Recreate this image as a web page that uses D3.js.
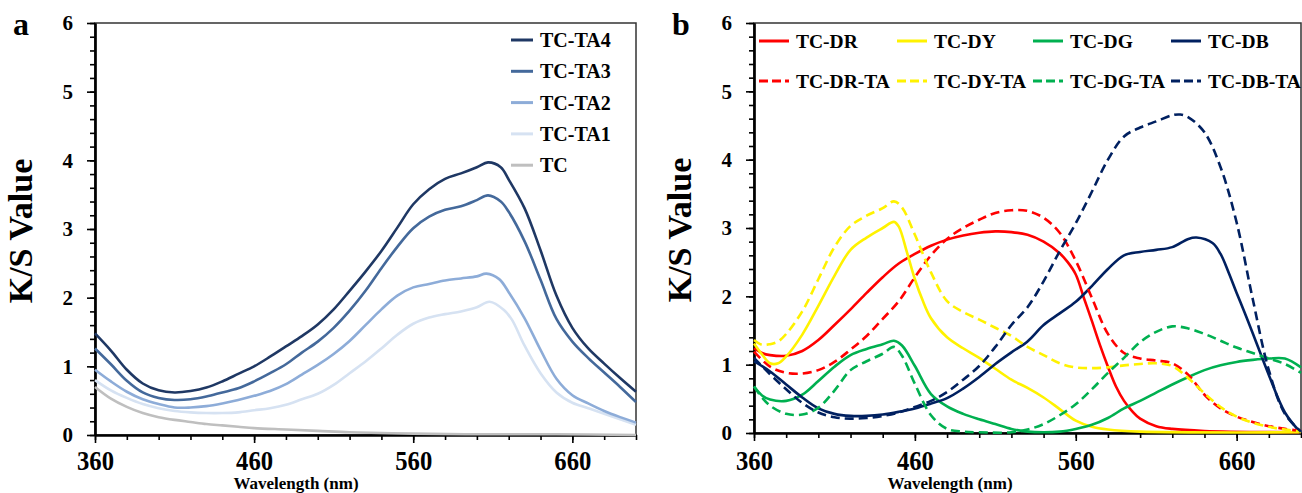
<!DOCTYPE html>
<html>
<head>
<meta charset="utf-8">
<script src="https://cdn.jsdelivr.net/npm/d3@7/dist/d3.min.js"></script>
<style>
body { margin: 0; background: #fff; }
svg text { font-family: "Liberation Serif", "Times New Roman", Times, serif !important; font-weight: bold; fill: #000; }
</style>
</head>
<body>
<svg id="chart" width="1302" height="493" font-family="Liberation Serif, serif"></svg>
<script>
// ---- data: [wavelength nm, K/S] ----
var tc = [[360,0.70],[370,0.53],[380,0.41],[390,0.32],[400,0.26],[410,0.22],[420,0.19],[430,0.16],[440,0.14],[450,0.12],[460,0.10],[480,0.08],[500,0.06],[520,0.04],[540,0.03],[560,0.02],[600,0.01],[650,0.01],[700,0.0]]
var tcTa1 = [[360,0.80],[370,0.65],[380,0.54],[390,0.45],[400,0.39],[410,0.35],[420,0.33],[430,0.32],[440,0.32],[450,0.33],[460,0.36],[470,0.39],[480,0.44],[490,0.52],[500,0.60],[510,0.73],[520,0.90],[530,1.07],[540,1.26],[550,1.46],[560,1.62],[570,1.71],[580,1.76],[590,1.80],[600,1.86],[608,1.94],[617,1.82],[622,1.68],[630,1.30],[640,0.90],[650,0.62],[660,0.47],[670,0.39],[680,0.31],[690,0.23],[700,0.15]]
var tcTa2 = [[360,0.95],[370,0.78],[380,0.63],[390,0.52],[400,0.45],[410,0.40],[420,0.40],[430,0.42],[440,0.46],[450,0.51],[460,0.57],[470,0.64],[480,0.74],[490,0.88],[500,1.02],[510,1.18],[520,1.37],[530,1.60],[540,1.83],[550,2.03],[560,2.15],[570,2.20],[580,2.25],[590,2.28],[600,2.31],[606,2.35],[614,2.27],[620,2.08],[630,1.70],[640,1.24],[650,0.82],[660,0.58],[670,0.46],[680,0.35],[690,0.26],[700,0.18]]
var tcTa3 = [[360,1.26],[370,1.03],[380,0.79],[390,0.62],[400,0.54],[410,0.51],[420,0.52],[430,0.56],[440,0.62],[450,0.68],[460,0.78],[470,0.90],[480,1.03],[490,1.20],[500,1.36],[510,1.56],[520,1.81],[530,2.10],[540,2.43],[550,2.74],[560,3.01],[570,3.18],[580,3.28],[590,3.33],[600,3.42],[607,3.49],[615,3.40],[620,3.25],[630,2.82],[640,2.26],[650,1.69],[660,1.36],[670,1.12],[680,0.91],[690,0.70],[700,0.48]]
var tcTa4 = [[360,1.48],[370,1.23],[380,0.95],[390,0.75],[400,0.65],[410,0.62],[420,0.64],[430,0.69],[440,0.78],[450,0.89],[460,1.00],[470,1.14],[480,1.29],[490,1.44],[500,1.61],[510,1.83],[520,2.10],[530,2.38],[540,2.68],[550,3.02],[560,3.36],[570,3.58],[580,3.73],[590,3.81],[600,3.90],[607,3.97],[615,3.90],[620,3.72],[630,3.30],[640,2.69],[650,2.03],[660,1.56],[670,1.26],[680,1.04],[690,0.83],[700,0.63]]

var tcDr = [[360,1.24],[365,1.17],[370,1.14],[380,1.13],[390,1.20],[400,1.36],[410,1.58],[420,1.81],[430,2.05],[440,2.28],[450,2.48],[460,2.62],[470,2.74],[480,2.83],[490,2.89],[500,2.93],[510,2.95],[520,2.94],[530,2.90],[540,2.80],[550,2.63],[555,2.50],[560,2.32],[565,1.98],[570,1.64],[575,1.29],[580,0.97],[585,0.68],[590,0.47],[595,0.32],[600,0.21],[610,0.10],[620,0.06],[640,0.03],[700,0.01]]
var tcDrTa = [[360,1.19],[370,0.97],[380,0.88],[390,0.87],[400,0.92],[410,1.04],[420,1.22],[430,1.42],[440,1.67],[450,1.93],[460,2.28],[470,2.60],[480,2.84],[490,3.00],[500,3.12],[510,3.22],[520,3.26],[530,3.25],[540,3.15],[550,2.93],[560,2.52],[570,1.98],[580,1.45],[590,1.17],[600,1.09],[610,1.06],[620,1.02],[630,0.85],[640,0.56],[650,0.36],[660,0.24],[670,0.16],[680,0.10],[690,0.06],[700,0.03]]
var tcDy = [[360,1.31],[365,1.15],[370,1.02],[375,1.02],[380,1.12],[390,1.44],[400,1.86],[410,2.30],[420,2.68],[430,2.86],[440,3.00],[447,3.09],[450,3.02],[455,2.65],[460,2.25],[465,1.93],[470,1.68],[480,1.40],[490,1.24],[500,1.10],[510,0.94],[520,0.78],[530,0.66],[540,0.52],[550,0.35],[560,0.18],[570,0.09],[580,0.05],[600,0.02],[700,0.01]]
var tcDyTa = [[360,1.36],[365,1.29],[370,1.30],[375,1.34],[380,1.45],[390,1.78],[400,2.25],[410,2.72],[420,3.03],[430,3.18],[440,3.29],[447,3.39],[452,3.30],[460,2.90],[470,2.35],[480,1.93],[490,1.77],[500,1.66],[510,1.54],[520,1.42],[530,1.26],[540,1.14],[550,1.02],[560,0.96],[570,0.95],[580,0.96],[590,0.99],[600,1.01],[610,1.02],[620,0.98],[630,0.80],[640,0.58],[650,0.38],[660,0.24],[670,0.15],[680,0.09],[690,0.05],[700,0.02]]
var tcDg = [[360,0.68],[365,0.55],[370,0.49],[380,0.47],[390,0.56],[400,0.76],[410,0.97],[420,1.14],[430,1.23],[440,1.30],[447,1.35],[452,1.28],[460,0.98],[470,0.57],[480,0.39],[490,0.28],[500,0.20],[510,0.13],[520,0.06],[530,0.02],[540,0.01],[550,0.02],[560,0.06],[570,0.12],[580,0.22],[590,0.36],[600,0.47],[610,0.59],[620,0.71],[630,0.82],[640,0.92],[650,0.99],[660,1.04],[670,1.07],[680,1.09],[690,1.09],[700,0.96]]
var tcDgTa = [[360,0.68],[365,0.52],[370,0.40],[380,0.28],[390,0.27],[400,0.37],[410,0.62],[420,0.92],[430,1.05],[440,1.16],[447,1.26],[452,1.13],[460,0.72],[470,0.26],[480,0.06],[490,0.02],[500,0.01],[520,0.01],[530,0.05],[540,0.13],[550,0.26],[560,0.42],[570,0.64],[580,0.88],[590,1.10],[600,1.33],[610,1.48],[620,1.56],[630,1.53],[640,1.45],[650,1.35],[660,1.25],[670,1.17],[680,1.09],[690,1.01],[700,0.88]]
var tcDb = [[360,1.05],[370,0.90],[380,0.71],[390,0.52],[400,0.36],[410,0.28],[420,0.25],[430,0.25],[440,0.27],[450,0.31],[460,0.36],[470,0.43],[480,0.51],[490,0.65],[500,0.82],[510,1.01],[520,1.18],[530,1.34],[540,1.58],[550,1.75],[560,1.92],[570,2.15],[580,2.40],[590,2.60],[600,2.65],[610,2.68],[620,2.72],[630,2.84],[635,2.86],[645,2.78],[650,2.62],[655,2.35],[660,2.05],[665,1.76],[670,1.46],[680,0.85],[690,0.30],[700,0.0]]
var tcDbTa = [[360,1.10],[370,0.86],[380,0.64],[390,0.44],[400,0.30],[410,0.23],[420,0.21],[430,0.22],[440,0.25],[450,0.30],[460,0.38],[470,0.47],[480,0.60],[490,0.78],[500,0.98],[510,1.26],[520,1.58],[530,1.84],[540,2.22],[550,2.66],[560,3.07],[570,3.53],[580,4.00],[590,4.34],[600,4.47],[610,4.56],[620,4.65],[625,4.66],[630,4.62],[640,4.40],[650,3.89],[660,3.08],[670,1.96],[680,0.92],[690,0.28],[700,0.02]]

var namesA = ["TC-TA4", "TC-TA3", "TC-TA2", "TC-TA1", "TC"]
var seriesA = [tcTa4, tcTa3, tcTa2, tcTa1, tc]
var namesB = ["TC-DR", "TC-DY", "TC-DG", "TC-DB", "TC-DR-TA", "TC-DY-TA", "TC-DG-TA", "TC-DB-TA"]
var seriesB = [tcDr, tcDy, tcDg, tcDb, tcDrTa, tcDyTa, tcDgTa, tcDbTa]

var yMajor = [0, 1, 2, 3, 4, 5, 6]
var yMinor = d3.range(0, 6.001, 0.2)
var xMajor = [360, 460, 560, 660]
var xMinor = d3.range(360, 701, 20)

var colorsA = ["#1f3864", "#44699b", "#8dacd8", "#d6e2f2", "#bfbfbf"]
var colorsB = ["#ff0000", "#fff200", "#00b050", "#002060"]
var serif = "'Liberation Serif', 'Times New Roman', Times, serif"

var svg = d3.select("#chart")

// axes, frame and labels shared by both panels
function drawFrame(p) {
    var x = d3.scaleLinear().domain([360, 700]).range([p.left, p.right])
    var y = d3.scaleLinear().domain([0, 6]).range([p.bottom, p.top])
    var g = svg.append("g")

    g.append("rect")
        .attr("x", p.left).attr("y", p.top)
        .attr("width", p.right - p.left).attr("height", p.bottom - p.top)
        .attr("fill", "none").attr("stroke", "#333").attr("stroke-width", 1.5)

    g.append("g").attr("transform", "translate(" + p.left + ",0)")
        .call(d3.axisLeft(y).tickValues(yMinor).tickSize(5).tickSizeOuter(0).tickFormat(""))
    var ya = g.append("g").attr("transform", "translate(" + p.left + ",0)")
        .call(d3.axisLeft(y).tickValues(yMajor).tickSize(8).tickSizeOuter(0).tickPadding(14).tickFormat(d3.format("d")))
    ya.selectAll("text").style("font-size", "21px")

    g.append("g").attr("transform", "translate(0," + p.bottom + ")")
        .call(d3.axisBottom(x).tickValues(xMinor).tickSize(5).tickSizeOuter(0).tickFormat(""))
    var xa = g.append("g").attr("transform", "translate(0," + p.bottom + ")")
        .call(d3.axisBottom(x).tickValues(xMajor).tickSize(8).tickSizeOuter(0).tickPadding(8))
    xa.selectAll("text").attr("dy", null).attr("y", 470 - p.bottom)
        .style("font-size", "28px").attr("textLength", 37).attr("lengthAdjust", "spacingAndGlyphs")

    g.selectAll(".domain").attr("stroke", "#000").attr("stroke-width", 2.2)
    g.selectAll(".tick line").attr("stroke", "#000").attr("stroke-width", 1.6)

    g.append("text")
        .attr("transform", "translate(" + (p.left - 63) + "," + ((p.top + p.bottom) / 2 + 2) + ") rotate(-90)")
        .attr("text-anchor", "middle")
        .style("font-size", "34px")
        .text("K/S Value")

    g.append("text")
        .attr("x", p.xlab).attr("y", 489)
        .attr("text-anchor", "middle")
        .style("font-size", "17px")
        .text("Wavelength (nm)")

    g.append("text")
        .attr("x", p.left - 82).attr("y", 35)
        .style("font-size", "32px")
        .text(p.letter)

    g.selectAll("text").attr("font-family", serif).style("font-family", serif).style("font-weight", "bold")
    return {x: x, y: y, g: g}
}

var pa = drawFrame({left: 95, right: 636, top: 23, bottom: 435, xlab: 296, letter: "a"})
var pb = drawFrame({left: 754, right: 1301, top: 23, bottom: 433, xlab: 950, letter: "b"})

function lineOf(p) {
    return d3.line()
        .x(function(d) { return p.x(d[0]) })
        .y(function(d) { return p.y(d[1]) })
        .curve(d3.curveCatmullRom.alpha(0.5))
}

// panel a curves, lightest first
var lineA = lineOf(pa)
for (var i = seriesA.length - 1; i >= 0; i--) {
    pa.g.append("path")
        .datum(seriesA[i])
        .attr("fill", "none")
        .attr("stroke", colorsA[i])
        .attr("stroke-width", 2.6)
        .attr("d", lineA)
}

// panel a legend
namesA.forEach(function(n, i) {
    var ly = 40 + i * 31.3
    pa.g.append("line").attr("x1", 511).attr("x2", 533).attr("y1", ly).attr("y2", ly)
        .attr("stroke", colorsA[i]).attr("stroke-width", 3)
    pa.g.append("text").attr("x", 540).attr("y", ly + 7)
        .style("font-family", serif).style("font-size", "20px").text(n)
})

// panel b curves
var lineB = lineOf(pb)
seriesB.forEach(function(s, i) {
    pb.g.append("path")
        .datum(s)
        .attr("fill", "none")
        .attr("stroke", colorsB[i % 4])
        .attr("stroke-width", 2.6)
        .attr("stroke-dasharray", i >= 4 ? "9,5" : null)
        .attr("d", lineB)
})

// panel b legend, 4 columns x 2 rows
var legX = [759, 897, 1033, 1171]
namesB.forEach(function(n, i) {
    var lx = legX[i % 4], ly = i < 4 ? 41 : 81
    pb.g.append("line").attr("x1", lx).attr("x2", lx + 30).attr("y1", ly).attr("y2", ly)
        .attr("stroke", colorsB[i % 4]).attr("stroke-width", 3)
        .attr("stroke-dasharray", i >= 4 ? "9,4" : null)
    pb.g.append("text").attr("x", lx + 37).attr("y", ly + 7)
        .style("font-family", serif).style("font-size", "19.5px").text(n)
})
</script>
</body>
</html>
